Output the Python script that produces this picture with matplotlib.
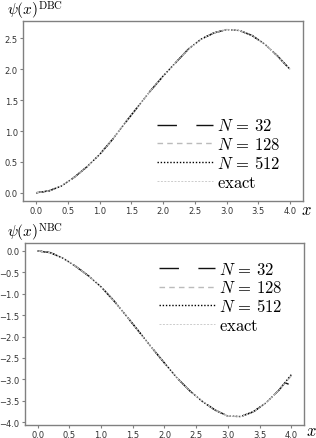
import matplotlib
matplotlib.use('Agg')
import matplotlib.pyplot as plt

plt.rcParams['mathtext.fontset'] = 'cm'

# values
x = [0.0, 0.2, 0.4, 0.6, 0.8, 1.0, 1.2, 1.4, 1.6, 1.8, 2.0,
     2.2, 2.4, 2.6, 2.8, 3.0, 3.2, 3.4, 3.6, 3.8, 4.0]

dbc_exact = [0.0, 0.03, 0.11, 0.25, 0.42, 0.62, 0.86, 1.13, 1.39, 1.65, 1.89,
             2.11, 2.33, 2.49, 2.59, 2.645, 2.63, 2.55, 2.41, 2.22, 2.0]
dbc_32 = dbc_exact
dbc_128 = dbc_exact
dbc_512 = dbc_exact

nbc_exact = [0.0, -0.04, -0.17, -0.36, -0.58, -0.84, -1.16, -1.52, -1.89, -2.26, -2.62,
             -2.97, -3.27, -3.52, -3.72, -3.86, -3.87, -3.76, -3.55, -3.26, -2.89]
# N=32 only drifts off at the last grid points
x_32 = x[:-1] + [3.9, 4.0]
nbc_32 = nbc_exact[:-1] + [-3.08, -3.14]
nbc_128 = nbc_exact[:-1] + [-2.92]
nbc_512 = nbc_exact

labels = [r'$N\,=\,32$', r'$N\,=\,128$', r'$N\,=\,512$', r'$\mathrm{exact}$']

styles = [
    dict(color='#111111', lw=1.0, dashes=(14, 14)),
    dict(color='#bbbbbb', lw=1.0, dashes=(4, 3)),
    dict(color='#000000', lw=1.0, dashes=(1, 1.3)),
    dict(color='#cccccc', lw=0.7, dashes=(2, 1.5)),
]

fig = plt.figure(figsize=(3.16, 4.39), dpi=100)
ax1 = fig.add_axes([0.074, 0.540, 0.884, 0.409])
ax2 = fig.add_axes([0.079, 0.030, 0.883, 0.415])

dbc_x = [x, x, x, x]
nbc_x = [x_32, x, x, x]

for ax, xs, ys, loc, anchor in [(ax1, dbc_x, [dbc_32, dbc_128, dbc_512, dbc_exact], 'lower right', (0.975, -0.028)),
                                (ax2, nbc_x, [nbc_32, nbc_128, nbc_512, nbc_exact], 'upper right', (0.978, 0.989))]:
    for xx, y, lab, st in zip(xs, ys, labels, styles):
        ax.plot(xx, y, label=lab, **st)
    ax.set_xticks([0, 0.5, 1.0, 1.5, 2.0, 2.5, 3.0, 3.5, 4.0])
    ax.tick_params(labelsize=6, colors='#808080', labelcolor='#333333',
                   length=2.5, width=0.8, pad=1.5, direction='out')
    for s in ax.spines.values():
        s.set_color('#808080')
        s.set_linewidth(1.0)
    ax.legend(loc=loc, bbox_to_anchor=anchor, frameon=False, fontsize=12, handlelength=3.4,
              labelspacing=0.05, handletextpad=0.25, borderaxespad=0.5)

ax2.set_yticks([0.0, -0.5, -1.0, -1.5, -2.0, -2.5, -3.0, -3.5, -4.0])

fig.text(7 / 316, 1 - 11 / 439, r'$\psi(x)^{\mathrm{DBC}}$', fontsize=11, va='center', ha='left')
fig.text(7 / 316, 1 - 233 / 439, r'$\psi(x)^{\mathrm{NBC}}$', fontsize=11, va='center', ha='left')
fig.text(306 / 316, 1 - 210 / 439, r'$x$', fontsize=12, va='center', ha='center')
fig.text(311 / 316, 1 - 431 / 439, r'$x$', fontsize=12, va='center', ha='center')

fig.savefig('out.png', dpi=100)
